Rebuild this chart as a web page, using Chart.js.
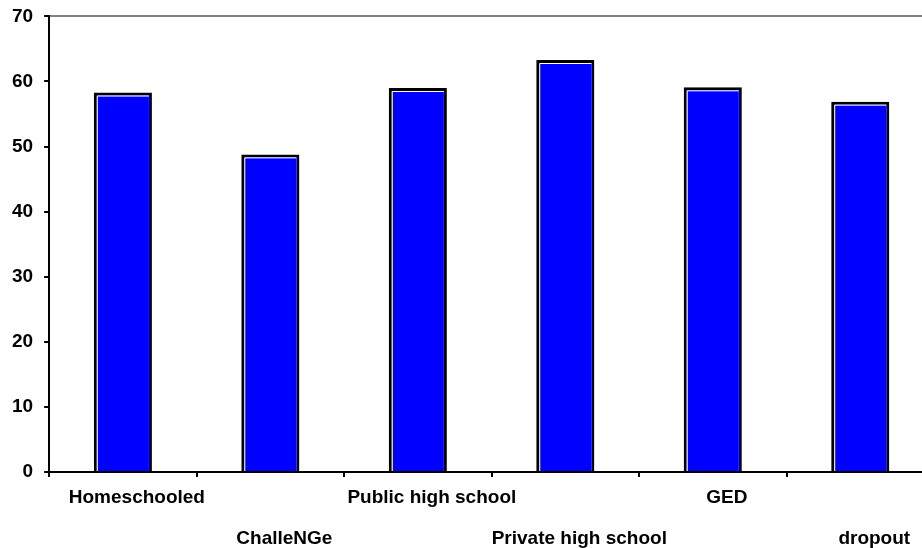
<!DOCTYPE html>
<html>
<head>
<meta charset="utf-8">
<script src="https://cdn.jsdelivr.net/npm/chart.js@4.4.1/dist/chart.umd.min.js"></script>
<style>
  html, body { margin: 0; padding: 0; background: #fff; overflow: hidden; }
  #wrap { position: absolute; left: 0; top: -6px; width: 934px; height: 565px; }
</style>
</head>
<body>
<div id="wrap"><canvas id="schoolChart"></canvas></div>
<script>
// categories and values
const categories = ['Homeschooled', 'ChalleNGe', 'Public high school', 'Private high school', 'GED', 'dropout'];
const values = [58.3, 48.8, 59.0, 63.3, 59.1, 56.9];
const yTicks = [0, 10, 20, 30, 40, 50, 60, 70];

// labels alternate between two rows, like the original
const staggered = categories.map((c, i) => i % 2 === 0 ? [c, ''] : ['', c]);

// thin white highlight inside the top and left edge of every bar
const barHighlight = {
    id: 'barHighlight',
    afterDatasetsDraw(chart) {
        const ctx = chart.ctx;
        chart.getDatasetMeta(0).data.forEach(function(bar) {
            const left = bar.x - bar.width / 2 + 3;
            const right = bar.x + bar.width / 2 - 3;
            ctx.save();
            ctx.strokeStyle = '#ffffff';
            ctx.lineWidth = 1;
            ctx.beginPath();
            ctx.moveTo(left + 0.5, bar.base);
            ctx.lineTo(left + 0.5, bar.y + 3.5);
            ctx.lineTo(right, bar.y + 3.5);
            ctx.stroke();
            ctx.restore();
        });
    }
};

const tickFont = { family: 'Liberation Sans, Arial, sans-serif', size: 19, weight: 'bold' };

new Chart(document.getElementById('schoolChart'), {
    type: 'bar',
    data: {
        labels: staggered,
        datasets: [{
            data: values,
            backgroundColor: '#0000ff',
            borderColor: '#000000',
            borderWidth: 3,
            borderSkipped: 'start',
            barPercentage: 0.394,
            categoryPercentage: 1.0
        }]
    },
    options: {
        responsive: true,
        maintainAspectRatio: false,
        animation: false,
        layout: { padding: { left: 1, top: 0, right: 0, bottom: 0 } },
        plugins: {
            legend: { display: false },
            tooltip: { enabled: false }
        },
        scales: {
            x: {
                offset: true,
                border: { display: true, color: '#000000', width: 2 },
                grid: {
                    offset: true,
                    drawOnChartArea: false,
                    color: '#000000',
                    tickColor: '#000000',
                    tickLength: 5,
                    lineWidth: 2
                },
                ticks: {
                    color: '#000000',
                    font: Object.assign({ lineHeight: '41px' }, tickFont),
                    padding: 0,
                    labelOffset: 14,
                    maxRotation: 0,
                    autoSkip: false
                }
            },
            y: {
                min: yTicks[0],
                max: yTicks[yTicks.length - 1],
                border: { display: true, color: '#000000', width: 2 },
                grid: {
                    color: function(c) {
                        return (c.tick.value === yTicks[0] || c.tick.value === yTicks[yTicks.length - 1]) ? '#808080' : 'rgba(0,0,0,0)';
                    },
                    tickColor: '#000000',
                    tickLength: 5,
                    lineWidth: 2
                },
                afterBuildTicks: function(axis) {
                    axis.ticks = yTicks.map(v => ({ value: v }));
                },
                ticks: {
                    color: '#000000',
                    font: tickFont,
                    padding: 11
                }
            }
        }
    },
    plugins: [barHighlight]
});
</script>
</body>
</html>
